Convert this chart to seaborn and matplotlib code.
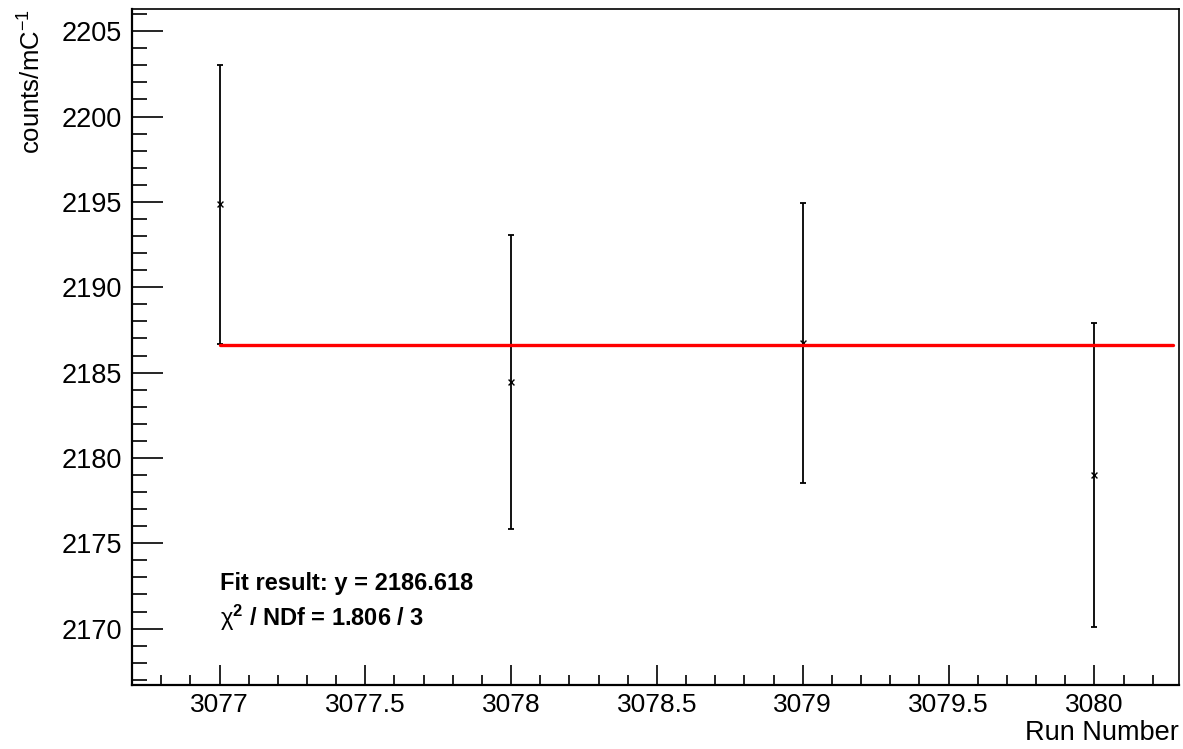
import numpy as np
import pandas as pd
import matplotlib
matplotlib.use("Agg")
import matplotlib.pyplot as plt
import seaborn as sns
from matplotlib.ticker import MultipleLocator

# data
runs = [3077, 3078, 3079, 3080]
rate = [2194.85, 2184.46, 2186.72, 2178.98]
rate_err = [8.15, 8.6, 8.2, 8.9]
fit_value = 2186.618
fit_range = [3077, 3080.27]
fit_text = "Fit result: y = 2186.618"
chi2_text = r"$\mathrm{\chi}^{\mathbf{2}}$ / NDf = 1.806 / 3"

sns.set_theme(style="ticks")
plt.rcParams["font.family"] = ["Liberation Sans", "DejaVu Sans"]
plt.rcParams["mathtext.fontset"] = "custom"
plt.rcParams["mathtext.rm"] = "Liberation Sans"
plt.rcParams["mathtext.it"] = "Liberation Sans:italic"
plt.rcParams["mathtext.bf"] = "Liberation Sans:bold"
plt.rcParams["text.color"] = "black"
plt.rcParams["axes.labelcolor"] = "black"
plt.rcParams["xtick.color"] = "black"
plt.rcParams["ytick.color"] = "black"
plt.rcParams["axes.edgecolor"] = "black"

df = pd.DataFrame({"run": runs, "rate": rate, "err": rate_err})

fig = plt.figure(figsize=(11.83, 7.49), dpi=100)
ax = fig.add_axes([0.1116, 0.0855, 0.8850, 0.9025])

ax.errorbar(df["run"], df["rate"], yerr=df["err"], fmt="none",
            ecolor="black", elinewidth=1.3, capsize=2.5, capthick=1.3, zorder=2)
sns.scatterplot(data=df, x="run", y="rate", marker="x", s=18, color="black",
                linewidth=1.0, ax=ax, zorder=3, legend=False)

fit_df = pd.DataFrame({"x": fit_range, "y": [fit_value, fit_value]})
sns.lineplot(data=fit_df, x="x", y="y", color="red", linewidth=2.4, ax=ax, zorder=4)

ax.set_xlim(3076.7, 3080.29)
ax.set_ylim(2166.7, 2206.3)

ax.xaxis.set_major_locator(MultipleLocator(0.5))
ax.xaxis.set_minor_locator(MultipleLocator(0.1))
ax.yaxis.set_major_locator(MultipleLocator(5))
ax.yaxis.set_minor_locator(MultipleLocator(1))
ax.xaxis.set_major_formatter(plt.FuncFormatter(lambda v, p: f"{v:g}"))
ax.yaxis.set_major_formatter(plt.FuncFormatter(lambda v, p: f"{v:g}"))

ax.tick_params(axis="x", which="major", direction="in", length=14.5, width=1.2,
               labelsize=19, pad=6, top=False)
ax.tick_params(axis="x", which="minor", direction="in", length=7, width=1.2, top=False)
ax.tick_params(axis="y", which="major", direction="in", length=22, width=1.2,
               labelsize=19.5, pad=7, right=False)
ax.tick_params(axis="y", which="minor", direction="in", length=11, width=1.2, right=False)

for side in ["left", "bottom"]:
    ax.spines[side].set_linewidth(1.6)
for side in ["top", "right"]:
    ax.spines[side].set_visible(True)
    ax.spines[side].set_linewidth(1.2)

ax.set_xlabel("Run Number", fontsize=19.5, loc="right", labelpad=2)
ax.set_ylabel("counts/mC$^{-1}$", fontsize=18.5, loc="top", labelpad=12)

ax.text(3077.0, 2172.65, fit_text, fontsize=17, fontweight="bold", ha="left", va="center")
ax.text(3077.0, 2170.65, chi2_text, fontsize=17, fontweight="bold", ha="left", va="center")

fig.savefig("out.png", dpi=100)
